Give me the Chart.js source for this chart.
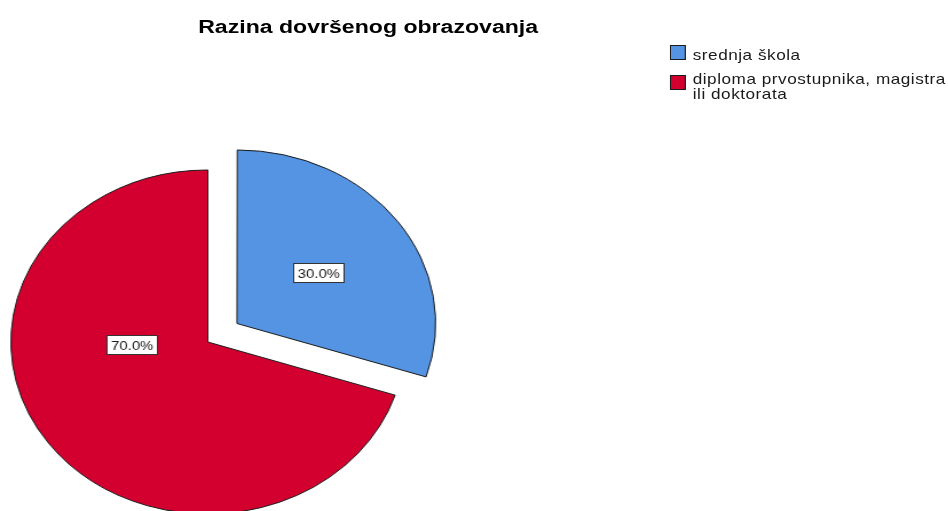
<!DOCTYPE html>
<html>
<head>
<meta charset="utf-8">
<script src="https://cdn.jsdelivr.net/npm/chart.js@4.4.1/dist/chart.umd.min.js"></script>
<style>
  html, body { margin: 0; padding: 0; background: #fff; overflow: hidden; }
  /* the SPSS export is stretched sideways, so the whole stage is too */
  #stage { position: absolute; left: 0; top: 0; width: 828px; height: 511px;
           transform: scaleX(1.145); transform-origin: 0 0; }
  #title { position: absolute; left: 0; width: 643px; top: 18px; text-align: center;
           font: bold 18px/18px "Liberation Sans", Arial, sans-serif; color: #000; }
  #title span { display: inline-block; transform: scaleX(1.12); }
  #legend { position: absolute; left: 0; top: 0; width: 828px;
            font: 15px/15px "Liberation Sans", Arial, sans-serif; color: #1a1a1a; }
  .txt { position: absolute; left: 605px; letter-spacing: 0.45px; white-space: nowrap; }
  .sw { position: absolute; left: 585px; width: 14px; height: 15px;
        box-sizing: border-box; border: 1px solid #1a1a1a; }
  canvas { position: absolute; left: 0; top: 0; }
</style>
</head>
<body>
<div id="stage">
  <canvas id="pie" width="828" height="511"></canvas>
  <div id="title"><span>Razina dovršenog obrazovanja</span></div>
  <div id="legend"></div>
</div>
<script>
// categories and values (percent of respondents)
const categories = ['srednja škola', 'diploma prvostupnika, magistra ili doktorata'];
const legendLines = [['srednja škola'], ['diploma prvostupnika, magistra', 'ili doktorata']];
const percentages = [30.0, 70.0];
const sliceColors = ['#5594e3', '#d3002f'];

const explode = [33, 0];   // how far each slice is pulled out, px
const legendTop = [47, 71];
const swatchTop = [45, 75];

// legend
const legendEl = document.getElementById('legend');
legendLines.forEach(function (lines, i) {
    const sw = document.createElement('span');
    sw.className = 'sw';
    sw.style.top = swatchTop[i] + 'px';
    sw.style.background = sliceColors[i];
    legendEl.appendChild(sw);
    const t = document.createElement('div');
    t.className = 'txt';
    t.style.top = legendTop[i] + 'px';
    t.innerHTML = lines.join('<br>');
    legendEl.appendChild(t);
});

// chart.js moves an arc by offset/4 * (1 + fix), turn a wanted distance into its offset
function arcOffset(dist, pct) {
    const circ = pct / 100 * 2 * Math.PI;
    const fix = 1 - Math.sin(Math.min(Math.PI, circ));
    return dist * 4 / (1 + fix);
}

// boxed percent labels, the way SPSS draws them
const pctLabels = {
    id: 'pctLabels',
    afterDatasetsDraw: function (chart) {
        const ctx = chart.ctx;
        const meta = chart.getDatasetMeta(0);
        meta.data.forEach(function (arc, i) {
            const r = arc.outerRadius;
            let x, y;
            if (percentages[i] <= 50) {
                const mid = (arc.startAngle + arc.endAngle) / 2;
                const d = explode[i] + r * 0.5;
                x = arc.x + Math.cos(mid) * d;
                y = arc.y + Math.sin(mid) * d;
            } else {
                x = arc.x - r * 0.385;
                y = arc.y + 2;
            }
            const txt = percentages[i].toFixed(1) + '%';
            ctx.save();
            ctx.font = '13px "Liberation Sans", Arial, sans-serif';
            const w = Math.round(ctx.measureText(txt).width) + 7;
            const h = 19;
            const bx = Math.round(x - w / 2) + 0.5, by = Math.round(y - h / 2) + 0.5;
            ctx.fillStyle = '#fff';
            ctx.fillRect(bx, by, w, h);
            ctx.strokeStyle = '#333';
            ctx.lineWidth = 1;
            ctx.strokeRect(bx, by, w, h);
            ctx.fillStyle = '#1a1a1a';
            ctx.textAlign = 'center';
            ctx.textBaseline = 'middle';
            ctx.fillText(txt, bx + w / 2, by + h / 2 + 1);
            ctx.restore();
        });
    }
};

new Chart(document.getElementById('pie'), {
    type: 'pie',
    data: {
        labels: categories,
        datasets: [{
            data: percentages,
            backgroundColor: sliceColors,
            borderColor: '#1a1a1a',
            borderWidth: 1,
            offset: explode.map(function (d, i) { return arcOffset(d, percentages[i]); })
        }]
    },
    options: {
        responsive: false,
        animation: false,
        radius: 172,
        layout: { padding: { left: 0, right: 465, top: 173, bottom: 0 } },
        plugins: {
            legend: { display: false },
            title: { display: false },
            tooltip: { enabled: false }
        }
    },
    plugins: [pctLabels]
});
</script>
</body>
</html>
